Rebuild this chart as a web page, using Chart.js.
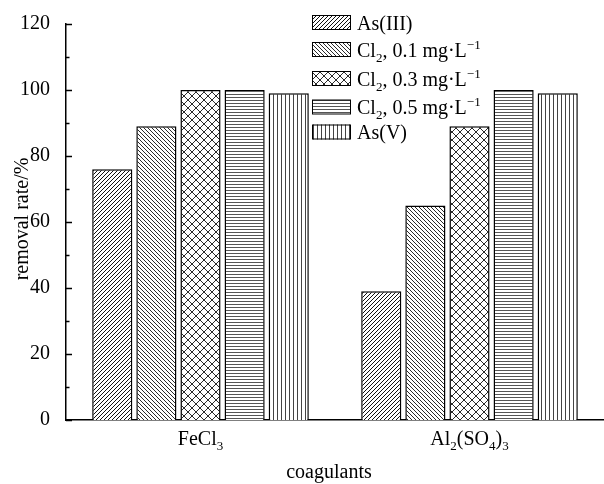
<!DOCTYPE html>
<html>
<head>
<meta charset="utf-8">
<script src="https://cdn.jsdelivr.net/npm/chart.js@4"></script>
<style>
  body { margin: 0; background: #fff; }
  #wrap { width: 604px; height: 484px; }
</style>
</head>
<body>
<div id="wrap"><canvas id="myChart" width="604" height="484"></canvas></div>
<script>
// data
var categories = ['FeCl_3', 'Al_2(SO_4)_3'];
var seriesNames = ['As(III)', 'Cl_2, 0.1 mg·L^{−1}', 'Cl_2, 0.3 mg·L^{−1}', 'Cl_2, 0.5 mg·L^{−1}', 'As(V)'];
var asIII = [76, 39];
var cl01 = [89, 65];
var cl03 = [100, 89];
var cl05 = [100, 100];
var asV = [99, 99];
var yTicks = [0, 20, 40, 60, 80, 100, 120];
var xTitle = 'coagulants';
var yTitle = 'removal rate/%';

var FONT = "'Liberation Serif', 'Times New Roman', serif";

function makePattern(kind) {
    var c = document.createElement('canvas');
    var n = 4;
    if (kind == 'cross') n = 8;
    if (kind == 'horiz') n = 3;
    c.width = n; c.height = n;
    var g = c.getContext('2d');
    g.fillStyle = '#fff';
    g.fillRect(0, 0, n, n);
    g.lineWidth = 1;
    g.strokeStyle = kind == 'up' ? '#111' : '#2a2a2a';
    g.beginPath();
    if (kind == 'up' || kind == 'cross') {
        for (var k = -1; k <= 1; k++) {
            g.moveTo(k * n, n); g.lineTo(k * n + n, 0);
        }
    }
    if (kind == 'down' || kind == 'cross') {
        for (var k = -1; k <= 1; k++) {
            g.moveTo(k * n, 0); g.lineTo(k * n + n, n);
        }
    }
    if (kind == 'horiz') {
        g.strokeStyle = '#555';
        g.moveTo(0, 1.5); g.lineTo(n, 1.5);
    }
    if (kind == 'vert') {
        g.strokeStyle = '#444';
        g.moveTo(1.5, 0); g.lineTo(1.5, n);
    }
    g.stroke();
    return g.createPattern(c, 'repeat');
}

var patterns = [makePattern('up'), makePattern('down'), makePattern('cross'), makePattern('horiz'), makePattern('vert')];
var seriesData = [asIII, cl01, cl03, cl05, asV];

// split "Cl_2" / "L^{−1}" into normal, sub and sup pieces
function parseRich(text) {
    var parts = [];
    var i = 0;
    while (i < text.length) {
        var ch = text[i];
        if (ch == '_' || ch == '^') {
            var kind = ch == '_' ? 'sub' : 'sup';
            var s;
            if (text[i + 1] == '{') {
                var end = text.indexOf('}', i);
                s = text.slice(i + 2, end);
                i = end + 1;
            } else {
                s = text[i + 1];
                i += 2;
            }
            parts.push({ t: s, k: kind });
        } else {
            if (parts.length && parts[parts.length - 1].k == 'n') parts[parts.length - 1].t += ch;
            else parts.push({ t: ch, k: 'n' });
            i++;
        }
    }
    return parts;
}

function drawRich(ctx, text, x, y, align) {
    var parts = parseRich(text);
    var total = 0;
    parts.forEach(function (p) {
        ctx.font = (p.k == 'n' ? 20 : 13) + 'px ' + FONT;
        p.w = ctx.measureText(p.t).width;
        total += p.w;
    });
    var cx = align == 'center' ? x - total / 2 : x;
    ctx.textAlign = 'left';
    ctx.textBaseline = 'alphabetic';
    parts.forEach(function (p) {
        ctx.font = (p.k == 'n' ? 20 : 13) + 'px ' + FONT;
        var dy = p.k == 'sub' ? 5 : (p.k == 'sup' ? -8 : 0);
        ctx.fillText(p.t, cx, y + dy);
        cx += p.w;
    });
}

var legendRows = [22.5, 49.5, 78.5, 107, 132];

var extras = {
    id: 'extras',
    afterDraw: function (chart) {
        var ctx = chart.ctx;
        var ys = chart.scales.y;
        var xs = chart.scales.x;
        var area = chart.chartArea;
        ctx.save();
        ctx.fillStyle = '#000';
        ctx.strokeStyle = '#000';

        // inward ticks on the y axis, minor every 10
        ctx.lineWidth = 1.5;
        for (var v = 0; v <= 120; v += 10) {
            var py = Math.round(ys.getPixelForValue(v)) + 0.5;
            var len = v % 20 == 0 ? 6 : 3.5;
            ctx.beginPath();
            ctx.moveTo(area.left, py);
            ctx.lineTo(area.left + len, py);
            ctx.stroke();
        }

        // category labels
        categories.forEach(function (c, i) {
            drawRich(ctx, c, xs.getPixelForValue(i), area.bottom + 25, 'center');
        });
        drawRich(ctx, xTitle, 329, area.bottom + 58, 'center');

        // y title
        ctx.save();
        ctx.translate(21, 219);
        ctx.rotate(-Math.PI / 2);
        drawRich(ctx, yTitle, 0, 7, 'center');
        ctx.restore();

        // legend
        seriesNames.forEach(function (name, i) {
            var cy = legendRows[i];
            ctx.fillStyle = patterns[i];
            ctx.fillRect(312, cy - 7.5, 39, 15);
            ctx.lineWidth = 1;
            ctx.strokeStyle = '#000';
            ctx.strokeRect(312.5, cy - 7, 38, 14);
            ctx.fillStyle = '#000';
            drawRich(ctx, name, 357, cy + 7, 'left');
        });
        ctx.restore();
    }
};

function createGraph() {
    var datasets = [];
    for (let i = 0; i < seriesNames.length; i++) {
        datasets.push({
            label: seriesNames[i],
            data: seriesData[i],
            backgroundColor: patterns[i],
            borderColor: '#000',
            borderWidth: 1.5,
            barPercentage: 0.91,
            categoryPercentage: 0.82
        });
    }
    new Chart(document.getElementById('myChart'), {
        type: 'bar',
        data: {
            labels: categories,
            datasets: datasets
        },
        options: {
            responsive: false,
            animation: false,
            layout: { padding: { top: 24, right: 0, left: 0, bottom: 0 } },
            plugins: {
                legend: { display: false },
                tooltip: { enabled: false }
            },
            scales: {
                x: {
                    ticks: { display: false },
                    grid: { display: false },
                    border: { display: true, color: '#000', width: 1.5 },
                    afterFit: function (s) { s.height = 64; }
                },
                y: {
                    min: 0,
                    max: 120,
                    afterBuildTicks: function (s) {
                        s.ticks = yTicks.map(function (v) { return { value: v }; });
                    },
                    ticks: {
                        color: '#000',
                        padding: 8,
                        font: { family: FONT, size: 20 }
                    },
                    grid: { display: false },
                    border: { display: true, color: '#000', width: 1.5 },
                    afterFit: function (s) { s.width = 66; }
                }
            }
        },
        plugins: [extras]
    });
}

createGraph();
</script>
</body>
</html>
